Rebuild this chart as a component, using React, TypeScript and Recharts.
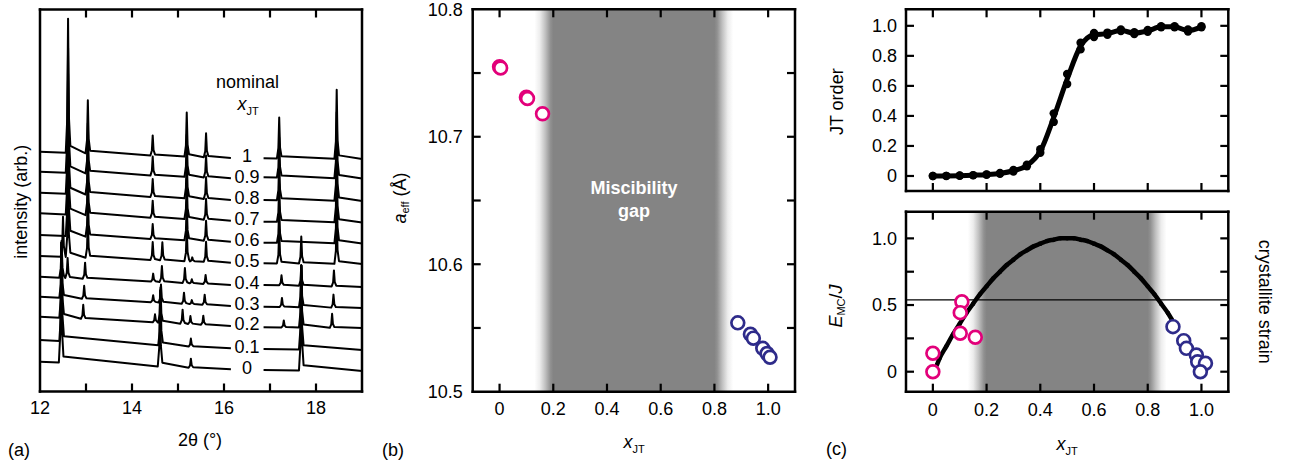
import {
  ComposedChart,
  Line,
  ReferenceArea,
  ReferenceDot,
  ReferenceLine,
  Scatter,
  XAxis,
  YAxis,
} from 'recharts'

const FONT = '"Liberation Sans", Arial, Helvetica, sans-serif'
const MAGENTA = '#e2007a'
const NAVY = '#2e2b8a'
const GAP_GRAY = '#848484'

// ---- (a) powder patterns, one trace per nominal x_JT (intensity in arb. px units)
const xrdLabels = ['0', '0.1', '0.2', '0.3', '0.4', '0.5', '0.6', '0.7', '0.8', '0.9', '1']
// background level: [left start, left end, right start, right end]
const xrdBase = [
  [29.8, 22.2, 21.5, 20.5],
  [51.5, 43.2, 42.5, 41.5],
  [74.8, 65.5, 64.2, 63.5],
  [94.8, 85.5, 84.8, 83.5],
  [114.8, 106.5, 106.5, 104.5],
  [135.5, 128.8, 128.2, 127.5],
  [156.5, 149.8, 148.8, 148],
  [178.2, 170.8, 169.8, 169],
  [198.8, 191.5, 191.5, 190.5],
  [219.8, 213.2, 214.2, 213],
  [239.8, 233.5, 233.2, 232.5],
]
// [2θ, peak height]
const xrdPeaks = [
  [[12.46, 120], [14.61, 76], [15.28, 9], [17.68, 105]],
  [[12.47, 95], [14.62, 55], [15.28, 8], [17.68, 84]],
  [[12.47, 75], [12.94, 14], [14.5, 8], [14.62, 35], [15.1, 14], [15.27, 8], [15.55, 9], [17.3, 7], [17.68, 62], [18.35, 14]],
  [[12.47, 55], [12.96, 13], [14.46, 7], [14.63, 18], [15.13, 11], [15.3, 4], [15.58, 10], [17.26, 9], [17.68, 42], [18.38, 13]],
  [[12.47, 37], [12.6, 20], [12.98, 16], [14.46, 8], [14.65, 16], [15.15, 15], [15.3, 4], [15.6, 9], [17.25, 10], [17.68, 20], [18.39, 16]],
  [[12.5, 40], [12.61, 85], [13.04, 38], [14.45, 18], [14.66, 18], [15.19, 34], [15.31, 4], [15.61, 20], [17.2, 34], [17.68, 27], [18.45, 52]],
  [[12.61, 105], [13.04, 45], [14.45, 15], [15.19, 38], [15.61, 20], [17.2, 36], [18.45, 60]],
  [[12.61, 115], [13.04, 48], [14.45, 17], [15.19, 40], [15.61, 21], [17.2, 38], [18.45, 62]],
  [[12.61, 120], [13.04, 50], [14.45, 18], [15.19, 42], [15.61, 22], [17.2, 40], [18.45, 64]],
  [[12.61, 125], [13.04, 50], [14.45, 19], [15.19, 42], [15.61, 22], [17.2, 40], [18.45, 66]],
  [[12.61, 134], [13.04, 53], [14.45, 20], [15.19, 44], [15.61, 24], [17.2, 41], [18.45, 69]],
]
const xrdTicks = [12, 13, 14, 15, 16, 17, 18, 19]
const xrdLeft = [12, 16.15]
const xrdRight = [16.86, 19]
const xrdLabelAt = 16.5

// ---- (b) effective lattice parameter
const latMagenta = [
  { x: 0, y: 10.755 },
  { x: 0.004, y: 10.754 },
  { x: 0.1, y: 10.731 },
  { x: 0.104, y: 10.73 },
  { x: 0.16, y: 10.718 },
]
const latNavy = [
  { x: 0.887, y: 10.554 },
  { x: 0.934, y: 10.545 },
  { x: 0.945, y: 10.542 },
  { x: 0.98, y: 10.534 },
  { x: 0.996, y: 10.53 },
  { x: 1.007, y: 10.527 },
]
const latTicks = [10.5, 10.55, 10.6, 10.65, 10.7, 10.75, 10.8]
const compTicks = [0, 0.2, 0.4, 0.6, 0.8, 1]

// ---- (c) top: JT order
const jtX = [0, 0.05, 0.1, 0.15, 0.2, 0.25, 0.3, 0.35, 0.4, 0.45, 0.5, 0.55, 0.6, 0.65, 0.7, 0.75, 0.8, 0.85, 0.9, 0.95, 1]
const jtLo = [0, 0, 0.002, 0.004, 0.008, 0.015, 0.03, 0.065, 0.155, 0.36, 0.612, 0.843, 0.925, 0.94, 0.965, 0.945, 0.96, 0.99, 0.99, 0.962, 0.99]
const jtHi = [0, 0.001, 0.003, 0.006, 0.011, 0.02, 0.04, 0.075, 0.178, 0.417, 0.679, 0.887, 0.953, 0.955, 0.975, 0.958, 0.972, 0.997, 0.997, 0.975, 0.997]
const jtFit = [0, 0.0005, 0.002, 0.005, 0.009, 0.017, 0.035, 0.07, 0.165, 0.39, 0.645, 0.865, 0.94, 0.948, 0.97, 0.951, 0.966, 0.993, 0.993, 0.968, 0.993]
const jtTicks = [0, 0.2, 0.4, 0.6, 0.8, 1]

// ---- (c) bottom: Monte Carlo energy and crystallite strain
const emcX = [0.015, 0.025, 0.05, 0.075, 0.1, 0.125, 0.15, 0.175, 0.2, 0.225, 0.25, 0.275, 0.3, 0.325, 0.35, 0.375, 0.4, 0.425, 0.45, 0.475, 0.5, 0.525, 0.55, 0.575, 0.6, 0.625, 0.65, 0.675, 0.7, 0.725, 0.75, 0.775, 0.8, 0.825, 0.85, 0.875, 0.89]
const emcY = [0.05, 0.1, 0.19, 0.28, 0.36, 0.44, 0.51, 0.58, 0.64, 0.7, 0.75, 0.8, 0.84, 0.88, 0.91, 0.94, 0.96, 0.98, 0.99, 1.0, 1.0, 1.0, 0.99, 0.98, 0.96, 0.94, 0.91, 0.88, 0.84, 0.8, 0.75, 0.7, 0.64, 0.58, 0.51, 0.44, 0.39]
const strainMagenta = [
  { x: 0, y: 0.138 },
  { x: 0, y: 0 },
  { x: 0.108, y: 0.525 },
  { x: 0.102, y: 0.443 },
  { x: 0.102, y: 0.288 },
  { x: 0.158, y: 0.258 },
]
const strainNavy = [
  { x: 0.894, y: 0.338 },
  { x: 0.934, y: 0.233 },
  { x: 0.944, y: 0.175 },
  { x: 0.981, y: 0.125 },
  { x: 0.986, y: 0.075 },
  { x: 1.015, y: 0.063 },
  { x: 0.996, y: 0 },
]
const strainRef = 0.538
const emcTicks = [0, 0.25, 0.5, 0.75, 1]

const gapRange = [0.13, 0.87]

// ---- panel geometry: plot-area edges on the page and the axis domains
const PA = { l: 40, r: 362, t: 9.5, b: 391.5, x: [12, 19], y: [0, 382] }
const PB = { l: 472.7, r: 795, t: 9.3, b: 391.7, x: [-0.1, 1.1], y: [10.5, 10.8] }
const PCT = { l: 906, r: 1228.3, t: 9.3, b: 191, x: [-0.1, 1.1], y: [-0.1, 1.11] }
const PCB = { l: 906, r: 1228.3, t: 211.7, b: 391.7, x: [-0.1, 1.1], y: [-0.15, 1.2] }

type Pt = { x: number; y: number | null }

function segment(x0: number, x1: number, b0: number, b1: number, peaks: number[][]): Pt[] {
  const pts: Pt[] = [{ x: x0, y: b0 }]
  peaks
    .filter(([p]) => p > x0 && p < x1)
    .forEach(([p, h]) => {
      const b = b0 + ((b1 - b0) * (p - x0)) / (x1 - x0)
      pts.push(
        { x: p - 0.05, y: b },
        { x: p - 0.018, y: b + 0.25 * h },
        { x: p, y: b + h },
        { x: p + 0.018, y: b + 0.27 * h },
        { x: p + 0.05, y: b + 0.05 * h }
      )
    })
  pts.push({ x: x1, y: b1 })
  return pts
}

const xrdTraces = xrdPeaks.map((peaks, i) => {
  const [l0, l1, r0, r1] = xrdBase[i]
  return [
    ...segment(xrdLeft[0], xrdLeft[1], l0, l1, peaks),
    { x: xrdLabelAt, y: null },
    ...segment(xrdRight[0], xrdRight[1], r0, r1, peaks),
  ]
})

const frame = { stroke: '#000', strokeWidth: 2.5, strokeLinecap: 'square' as const }
const tickText = { fontSize: 18, fill: '#000', fontFamily: FONT }
const TICK_PX = 8
const TICK_W = 2.2

const fmt1 = (v: number) => (v === 0 ? '0' : v.toFixed(1))

// chart margins that put the plot area at the panel's edges (chart placed at page offset ox, oy)
function marginsFor(p: typeof PA, ox: number, oy: number, w: number, h: number, labelled: boolean) {
  return {
    top: p.t - oy - 1,
    right: ox + w - p.r - 1,
    bottom: oy + h - p.b - (labelled ? 30 : 1),
    left: p.l - ox - 1,
  }
}

// inward frame tick marks for one panel
function FrameTicks({ p, xTicks, yTicks }: { p: typeof PA; xTicks: number[]; yTicks: number[] }) {
  const sx = (v: number) => p.l + ((v - p.x[0]) / (p.x[1] - p.x[0])) * (p.r - p.l)
  const sy = (v: number) => p.b - ((v - p.y[0]) / (p.y[1] - p.y[0])) * (p.b - p.t)
  return (
    <g fill="#000">
      {xTicks.map((v) => (
        <g key={'x' + v}>
          <rect x={sx(v) - TICK_W / 2} y={p.b - TICK_PX} width={TICK_W} height={TICK_PX} />
          <rect x={sx(v) - TICK_W / 2} y={p.t} width={TICK_W} height={TICK_PX} />
        </g>
      ))}
      {yTicks.map((v) => (
        <g key={'y' + v}>
          <rect x={p.l} y={sy(v) - TICK_W / 2} width={TICK_PX} height={TICK_W} />
          <rect x={p.r - TICK_PX} y={sy(v) - TICK_W / 2} width={TICK_PX} height={TICK_W} />
        </g>
      ))}
    </g>
  )
}

function GapGradient({ id }: { id: string }) {
  return (
    <defs>
      <linearGradient id={id} x1="0" y1="0" x2="1" y2="0">
        <stop offset="0" stopColor={GAP_GRAY} stopOpacity={0} />
        <stop offset="0.027" stopColor={GAP_GRAY} stopOpacity={0.15} />
        <stop offset="0.054" stopColor={GAP_GRAY} stopOpacity={0.5} />
        <stop offset="0.081" stopColor={GAP_GRAY} stopOpacity={0.9} />
        <stop offset="0.095" stopColor={GAP_GRAY} stopOpacity={1} />
        <stop offset="0.905" stopColor={GAP_GRAY} stopOpacity={1} />
        <stop offset="0.919" stopColor={GAP_GRAY} stopOpacity={0.9} />
        <stop offset="0.946" stopColor={GAP_GRAY} stopOpacity={0.5} />
        <stop offset="0.973" stopColor={GAP_GRAY} stopOpacity={0.15} />
        <stop offset="1" stopColor={GAP_GRAY} stopOpacity={0} />
      </linearGradient>
    </defs>
  )
}

const ring = (color: string) => (p: any) => (
  <circle cx={p.cx} cy={p.cy} r={6.4} fill="#fff" stroke={color} strokeWidth={2.7} />
)
const blob = (r: number) => (p: any) => <circle cx={p.cx} cy={p.cy} r={r} fill="#000" />

function PanelA() {
  const even = (v: number) => (v % 2 === 0 && v < 19 ? String(v) : '')
  return (
    <ComposedChart width={400} height={466} margin={marginsFor(PA, 0, 0, 400, 466, true)}>
      <XAxis dataKey="x" type="number" domain={PA.x} ticks={xrdTicks} interval={0} tickFormatter={even}
        height={30} tickSize={0} tickMargin={10} tickLine={false} axisLine={frame} tick={tickText} />
      <XAxis xAxisId="top" orientation="top" type="number" domain={PA.x} height={1} tick={false} tickLine={false} axisLine={frame} />
      <YAxis dataKey="y" type="number" domain={PA.y} width={1} tick={false} tickLine={false} axisLine={frame} />
      <YAxis yAxisId="r" orientation="right" type="number" domain={PA.y} width={1} tick={false} tickLine={false} axisLine={frame} />
      {xrdTraces.map((d, i) => (
        <Line
          key={xrdLabels[i]}
          data={d}
          dataKey="y"
          type="linear"
          stroke="#000"
          strokeWidth={2}
          strokeLinejoin="round"
          dot={false}
          isAnimationActive={false}
        />
      ))}
      {xrdLabels.map((lab, i) => (
        <ReferenceDot
          key={'l' + lab}
          x={xrdLabelAt}
          y={xrdBase[i][1] + 2}
          r={0}
          stroke="none"
          fill="none"
          label={{ value: lab, position: 'center', fontSize: 18, fill: '#000', fontFamily: FONT }}
        />
      ))}
    </ComposedChart>
  )
}

function PanelB() {
  const latFmt = (v: number) => (Math.round(v * 100) % 10 === 0 ? v.toFixed(1) : '')
  return (
    <ComposedChart width={420} height={466} margin={marginsFor(PB, 380, 0, 420, 466, true)}>
      <GapGradient id="gapB" />
      <XAxis dataKey="x" type="number" domain={PB.x} ticks={compTicks} interval={0} tickFormatter={fmt1}
        height={30} tickSize={0} tickMargin={11} tickLine={false} axisLine={frame} tick={tickText} />
      <XAxis xAxisId="top" orientation="top" type="number" domain={PB.x} height={1} tick={false} tickLine={false} axisLine={frame} />
      <YAxis dataKey="y" type="number" domain={PB.y} ticks={latTicks} interval={0} tickFormatter={latFmt}
        width={1} tickSize={0} tickMargin={10} tickLine={false} axisLine={frame} tick={tickText} />
      <YAxis yAxisId="r" orientation="right" type="number" domain={PB.y} width={1} tick={false} tickLine={false} axisLine={frame} />
      <ReferenceArea x1={gapRange[0]} x2={gapRange[1]} fill="url(#gapB)" fillOpacity={1} stroke="none" />
      <Scatter data={latMagenta} dataKey="y" shape={ring(MAGENTA)} isAnimationActive={false} />
      <Scatter data={latNavy} dataKey="y" shape={ring(NAVY)} isAnimationActive={false} />
    </ComposedChart>
  )
}

function PanelCTop() {
  const fit = jtX.map((x, i) => ({ x, y: jtFit[i] }))
  const dots = jtX.flatMap((x, i) => [
    { x, y: jtLo[i] },
    { x, y: jtHi[i] },
  ])
  return (
    <ComposedChart width={474} height={200} margin={marginsFor(PCT, 820, 0, 474, 200, false)}>
      <XAxis dataKey="x" type="number" domain={PCT.x} height={1} tick={false} tickLine={false} axisLine={frame} />
      <XAxis xAxisId="top" orientation="top" type="number" domain={PCT.x} height={1} tick={false} tickLine={false} axisLine={frame} />
      <YAxis dataKey="y" type="number" domain={PCT.y} ticks={jtTicks} interval={0} tickFormatter={fmt1}
        width={1} tickSize={0} tickMargin={9} tickLine={false} axisLine={frame} tick={tickText} />
      <YAxis yAxisId="r" orientation="right" type="number" domain={PCT.y} width={1} tick={false} tickLine={false} axisLine={frame} />
      <Line data={fit} dataKey="y" type="monotone" stroke="#000" strokeWidth={5} dot={false} isAnimationActive={false} />
      <Scatter data={dots} dataKey="y" shape={blob(4.2)} isAnimationActive={false} />
    </ComposedChart>
  )
}

function PanelCBottom() {
  const curve = emcX.map((x, i) => ({ x, y: emcY[i] }))
  const leftFmt = (v: number) => (v === 0 ? '0' : v === 0.5 || v === 1 ? v.toFixed(1) : '')
  const rightFmt = (v: number) => (v === 0 ? '0' : v === 1 ? '1' : '')
  return (
    <ComposedChart width={474} height={266} margin={marginsFor(PCB, 820, 200, 474, 266, true)}>
      <GapGradient id="gapC" />
      <XAxis dataKey="x" type="number" domain={PCB.x} ticks={compTicks} interval={0} tickFormatter={fmt1}
        height={30} tickSize={0} tickMargin={12} tickLine={false} axisLine={frame} tick={tickText} />
      <XAxis xAxisId="top" orientation="top" type="number" domain={PCB.x} height={1} tick={false} tickLine={false} axisLine={frame} />
      <YAxis dataKey="y" type="number" domain={PCB.y} ticks={emcTicks} interval={0} tickFormatter={leftFmt}
        width={1} tickSize={0} tickMargin={9} tickLine={false} axisLine={frame} tick={tickText} />
      <YAxis yAxisId="r" orientation="right" type="number" domain={PCB.y} ticks={emcTicks} interval={0} tickFormatter={rightFmt}
        width={1} tickSize={0} tickMargin={6} tickLine={false} axisLine={frame} tick={tickText} />
      <ReferenceArea x1={gapRange[0]} x2={gapRange[1]} fill="url(#gapC)" fillOpacity={1} stroke="none" />
      <ReferenceLine y={strainRef} stroke="#000" strokeWidth={1.2} />
      <Line data={curve} dataKey="y" type="monotone" stroke="#000" strokeWidth={4.5}
        dot={{ r: 2.2, fill: '#000', stroke: 'none' }} isAnimationActive={false} />
      <Scatter data={strainMagenta} dataKey="y" shape={ring(MAGENTA)} isAnimationActive={false} />
      <Scatter data={strainNavy} dataKey="y" shape={ring(NAVY)} isAnimationActive={false} />
    </ComposedChart>
  )
}

function Texts() {
  const t = { fontFamily: FONT, fontSize: 18, fill: '#000' }
  return (
    <svg width={1294} height={466} style={{ position: 'absolute', left: 0, top: 0, pointerEvents: 'none' }}>
      <FrameTicks p={PA} xTicks={xrdTicks.slice(1, -1)} yTicks={[]} />
      <FrameTicks p={PB} xTicks={compTicks} yTicks={latTicks.slice(1, -1)} />
      <FrameTicks p={PCT} xTicks={compTicks} yTicks={jtTicks} />
      <FrameTicks p={PCB} xTicks={compTicks} yTicks={emcTicks} />

      {/* (a) */}
      <text {...t} x={21} y={201.7} transform="rotate(-90 21 201.7)" textAnchor="middle" dominantBaseline="central">
        intensity (arb.)
      </text>
      <text {...t} x={200} y={446} textAnchor="middle">2θ (°)</text>
      <text {...t} x={8} y={456}>(a)</text>
      <text {...t} x={247.5} y={88} textAnchor="middle">nominal</text>
      <text {...t} x={248} y={110} textAnchor="middle">
        <tspan fontStyle="italic">x</tspan>
        <tspan fontSize={11} dy={5}>JT</tspan>
      </text>

      {/* (b) */}
      <text {...t} x={400} y={198} transform="rotate(-90 400 198)" textAnchor="middle" dominantBaseline="central">
        <tspan fontStyle="italic">a</tspan>
        <tspan fontSize={11} dy={5}>eff</tspan>
        <tspan dy={-5}> (Å)</tspan>
      </text>
      <text {...t} x={634} y={448} textAnchor="middle">
        <tspan fontStyle="italic">x</tspan>
        <tspan fontSize={11} dy={5}>JT</tspan>
      </text>
      <text {...t} x={382} y={456}>(b)</text>
      <text {...t} fill="#fff" fontWeight="bold" x={634} y={194} textAnchor="middle">Miscibility</text>
      <text {...t} fill="#fff" fontWeight="bold" x={634} y={217} textAnchor="middle">gap</text>

      {/* (c) */}
      <text {...t} x={837} y={101.7} transform="rotate(-90 837 101.7)" textAnchor="middle" dominantBaseline="central">
        JT order
      </text>
      <text {...t} x={836} y={306} transform="rotate(-90 836 306)" textAnchor="middle" dominantBaseline="central">
        <tspan fontStyle="italic">E</tspan>
        <tspan fontSize={11} dy={5}>MC</tspan>
        <tspan dy={-5}>/</tspan>
        <tspan fontStyle="italic">J</tspan>
      </text>
      <text {...t} x={1265} y={301.7} transform="rotate(90 1265 301.7)" textAnchor="middle" dominantBaseline="central">
        crystallite strain
      </text>
      <text {...t} x={1067} y={450} textAnchor="middle">
        <tspan fontStyle="italic">x</tspan>
        <tspan fontSize={11} dy={5}>JT</tspan>
      </text>
      <text {...t} x={826} y={455}>(c)</text>
    </svg>
  )
}

export default function App() {
  return (
    <div
      style={{
        position: 'absolute',
        left: 0,
        top: 0,
        width: 1294,
        height: 466,
        background: '#fff',
        fontFamily: FONT,
        overflow: 'hidden',
      }}
    >
      <div style={{ position: 'absolute', left: 0, top: 0 }}>
        <PanelA />
      </div>
      <div style={{ position: 'absolute', left: 380, top: 0 }}>
        <PanelB />
      </div>
      <div style={{ position: 'absolute', left: 820, top: 0 }}>
        <PanelCTop />
      </div>
      <div style={{ position: 'absolute', left: 820, top: 200 }}>
        <PanelCBottom />
      </div>
      <Texts />
    </div>
  )
}
